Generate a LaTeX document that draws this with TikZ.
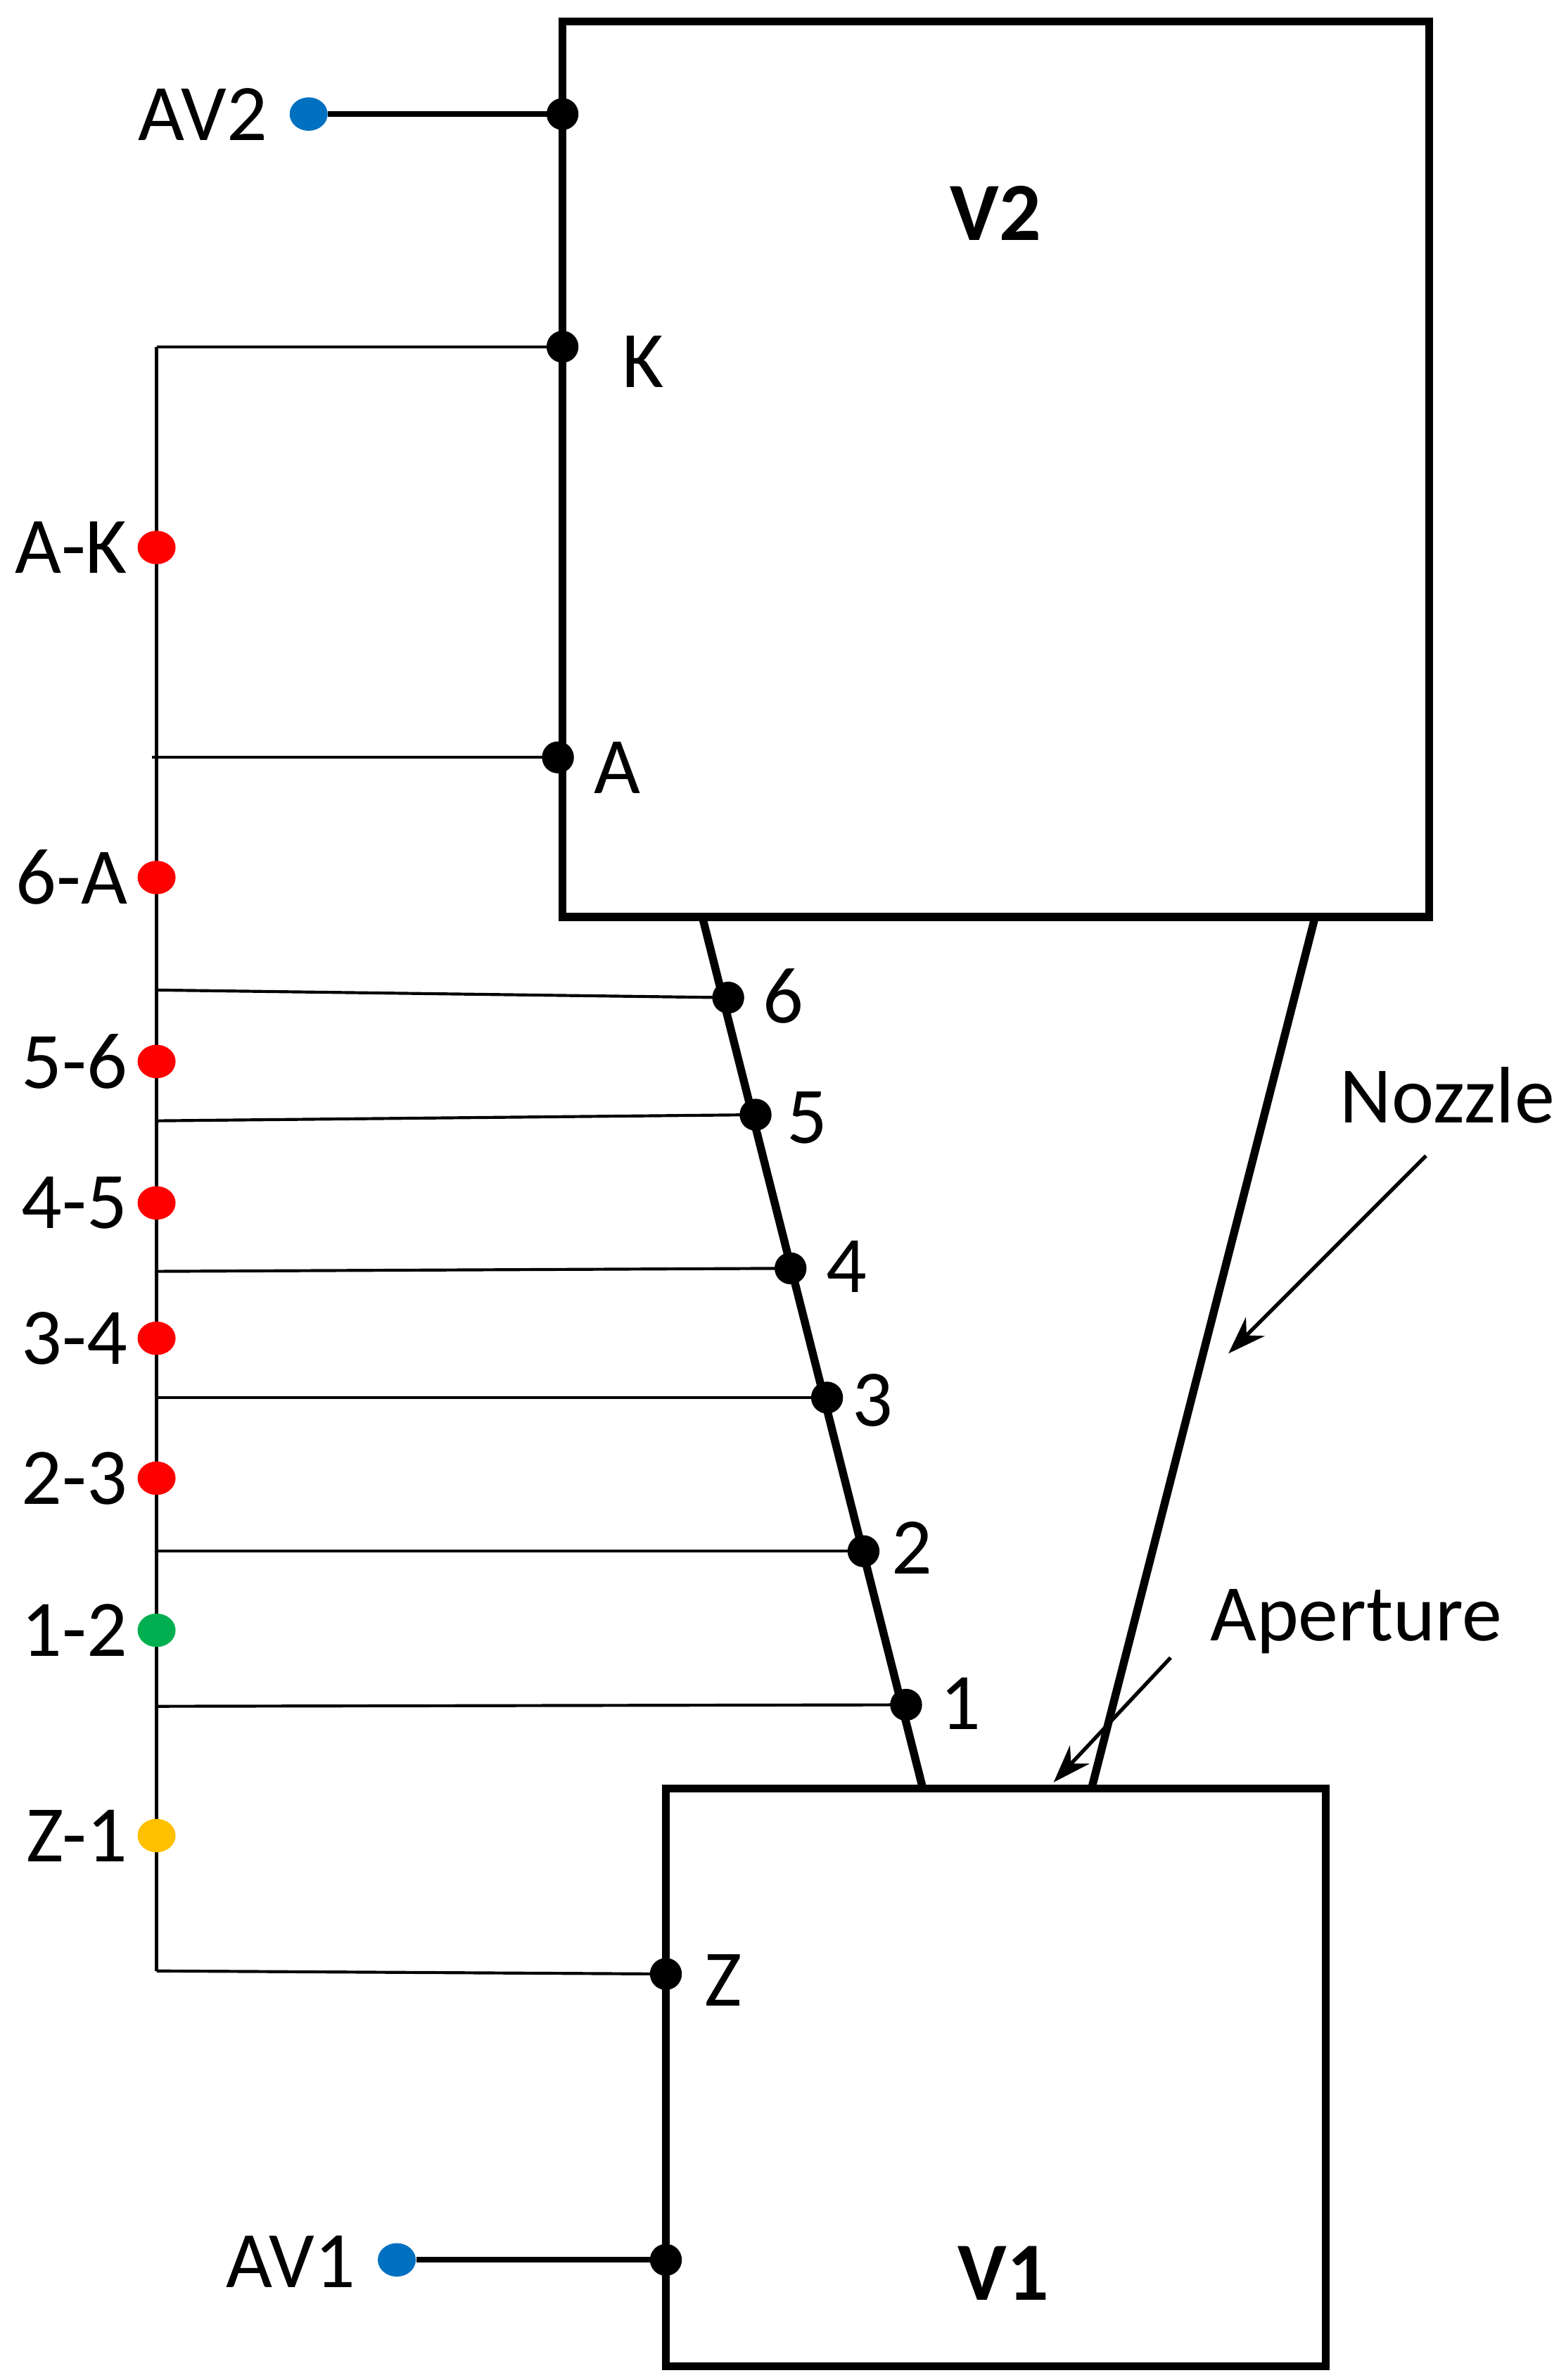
\documentclass[tikz,border=0pt]{standalone}
\usepackage{fontspec}
\setmainfont{Carlito}
\usetikzlibrary{shapes.geometric,arrows.meta}
\definecolor{cblue}{RGB}{0,112,192}
\definecolor{cgreen}{RGB}{0,176,80}
\definecolor{cyel}{RGB}{255,192,0}
\definecolor{cred}{RGB}{255,0,0}
\begin{document}
\begin{tikzpicture}[x=0.02cm,y=-0.02cm,
  thickl/.style={line width=3pt},
  thinl/.style={line width=1.1pt},
  bdot/.style={circle,fill=black,inner sep=0pt,minimum size=0.42cm},
  cdot/.style={ellipse,inner sep=0pt,minimum width=0.5cm,minimum height=0.44cm},
  lab/.style={font=\fontsize{30}{32}\selectfont},
  arr/.style={line width=1.4pt,-{Stealth[length=0.5cm,width=0.35cm]}}]
\useasboundingbox (0,0) rectangle (1030,1565);
% boxes
\draw[thickl] (370,14) rectangle (940,603);
\draw[thickl] (438,1176) rectangle (872,1556);
\node[font=\fontsize{31}{33}\selectfont\bfseries] (v2) at (655,140) {V2};
\node[font=\fontsize{31}{33}\selectfont\bfseries] (v1) at (660,1495) {V1};
% nozzle
\coordinate (nl1) at (462,603); \coordinate (nl2) at (607,1176);
\coordinate (nr1) at (865,603); \coordinate (nr2) at (718,1176);
\draw[thickl] (nl1) -- (nl2);
\draw[thickl] (nr1) -- (nr2);
% spine
\coordinate (top) at (103,228); \coordinate (bot) at (103,1296);
\draw[thinl] (top) -- (bot);
% points
\node[bdot] (av2p) at (370,75) {};
\node[bdot] (kp) at (370,228) {};
\node[bdot] (ap) at (367,498) {};
\node[bdot] (p6) at (479,656) {};
\node[bdot] (p5) at (497,733) {};
\node[bdot] (p4) at (520,834) {};
\node[bdot] (p3) at (544,919) {};
\node[bdot] (p2) at (568,1020) {};
\node[bdot] (p1) at (596,1121) {};
\node[bdot] (zp) at (438,1298) {};
\node[bdot] (av1p) at (438,1486) {};
% horizontal links
\coordinate (h0) at (103,228); \coordinate (hA) at (100,498);
\coordinate (h6) at (103,651); \coordinate (h5) at (103,737);
\coordinate (h4) at (103,836); \coordinate (h3) at (103,919);
\coordinate (h2) at (103,1020); \coordinate (h1) at (103,1122);
\coordinate (hz) at (103,1296);
\draw[thinl] (h0) -- (kp.center);
\draw[thinl] (hA) -- (ap.center);
\draw[thinl] (h6) -- (p6.center);
\draw[thinl] (h5) -- (p5.center);
\draw[thinl] (h4) -- (p4.center);
\draw[thinl] (h3) -- (p3.center);
\draw[thinl] (h2) -- (p2.center);
\draw[thinl] (h1) -- (p1.center);
\draw[thinl] (hz) -- (zp.center);
% AV
\node[cdot,fill=cblue] (av2) at (203,75) {};
\node[cdot,fill=cblue] (av1) at (261,1486) {};
\draw[line width=2.2pt] (av2) -- (av2p.center);
\draw[line width=2.2pt] (av1) -- (av1p.center);
\node[lab,anchor=east] at (182,75) {AV2};
\node[lab,anchor=east] at (240,1487) {AV1};
% colored dots
\foreach \y/\t/\c in {360/A-K/cred,577/6-A/cred,698/5-6/cred,791/4-5/cred,880/3-4/cred,972/2-3/cred,1072/1-2/cgreen,1207/Z-1/cyel}{
  \node[cdot,fill=\c] (d\t) at (103,\y) {};
  \node[lab,anchor=east] at (90,\y) {\t};
}
% labels
\node[lab] at (423,238) {K};
\node[lab] at (406,505) {A};
\node[lab] at (515,655) {6};
\node[lab] at (531,735) {5};
\node[lab] at (557,833) {4};
\node[lab] at (574,921) {3};
\node[lab] at (600,1018) {2};
\node[lab] at (632,1120) {1};
\node[lab] at (476,1302) {Z};
\node[lab] (noz) at (952,720) {Nozzle};
\node[lab] (ape) at (892,1066) {Aperture};
\coordinate (na) at (938,760); \coordinate (nb) at (808,890);
\coordinate (aa) at (770,1090); \coordinate (ab) at (693,1172);
\draw[arr] (na) -- (nb);
\draw[arr] (aa) -- (ab);
\end{tikzpicture}
\end{document}
